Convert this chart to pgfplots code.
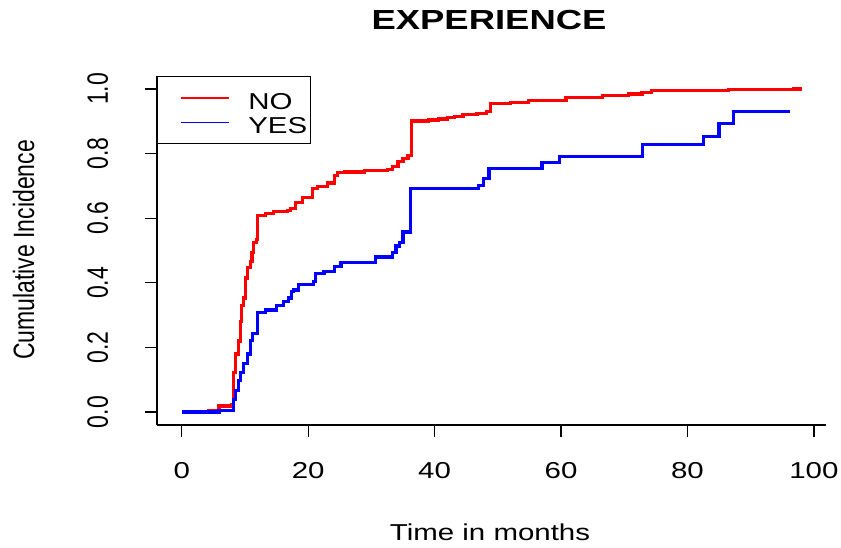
\documentclass[border=0pt]{standalone}
\usepackage{pgfplots}
\pgfplotsset{compat=1.18}
\usepackage{fontspec}
\usepackage{graphicx}
\setmainfont{Liberation Sans}[FakeStretch=1.28, BoldFeatures={FakeStretch=1.32}]
\newfontfamily\rotfont{Liberation Sans}
\begin{document}
\fontsize{23bp}{27bp}\selectfont
\begin{tikzpicture}
\useasboundingbox (0,0) rectangle (841bp,-548bp);
\begin{axis}[
  at={(157bp,-425bp)}, anchor=south west,
  scale only axis, width=669bp, height=349bp,
  xmin=-3.92, xmax=101.92, ymin=-0.04, ymax=1.04,
  axis x line*=bottom, axis y line*=left,
  axis line style={black, line width=1.3bp, -},
  xtick={0,20,40,60,80,100}, ytick={0,0.2,0.4,0.6,0.8,1.0},
  tick align=outside, major tick length=12bp,
  tick style={black, line width=1.3bp},
  /pgf/number format/assume math mode=true,
  xticklabel style={anchor=base, yshift=-41bp},
  yticklabel={\scalebox{1}[1.28]{\rotfont\pgfmathprintnumber[fixed,fixed zerofill,precision=1]{\tick}}},
  yticklabel style={xshift=-37bp, rotate=90, anchor=base},
  legend style={at={(rel axis cs:0,1)}, anchor=north west, draw=black, line width=1.3bp, fill=white,
    inner xsep=3bp, inner ysep=9.75bp, row sep=1.5bp, column sep=19bp,
    nodes={inner sep=0pt, text height=23bp, text depth=0pt}, cells={anchor=west}},
  legend image code/.code={\path[draw=none, fill=none] (0bp,0bp) rectangle (68bp,0.1bp); \draw[#1, line width=1.2bp] (20bp,0bp) -- (68bp,0bp);},
]
\addplot[const plot, red, line width=3.2bp, no markers] coordinates {
(0,0) (4.2,0.006) (5.9,0.019) (7.9,0.024) (8.17,0.123) (8.44,0.18) (8.97,0.22) (9.24,0.28) (9.5,0.33) (9.77,0.353)
(10.03,0.415) (10.4,0.447) (10.83,0.467) (11.1,0.493) (11.36,0.525) (11.78,0.534) (12.0,0.609) (13.2,0.615) (14.5,0.621)
(16.7,0.625) (17.2,0.631) (18.0,0.649) (19.06,0.665) (20.65,0.691) (21.45,0.699) (23.0,0.709) (24.1,0.732) (24.6,0.741)
(25.7,0.743) (28.9,0.748) (32.6,0.751) (33.4,0.761) (34.2,0.776) (35.0,0.784) (35.8,0.795) (36.3,0.901) (39.0,0.904)
(40.6,0.907) (42.1,0.911) (43.2,0.915) (44.5,0.922) (46.7,0.925) (48.2,0.93) (48.8,0.956) (52.0,0.959) (54.9,0.963)
(60.8,0.974) (66.6,0.979) (70.7,0.984) (72.8,0.989) (74.3,0.995) (86.5,0.997) (96.8,1.0) (98.1,1.0)
};
\addlegendentry{NO}
\addplot[const plot, blue, line width=3.2bp, no markers] coordinates {
(0,0) (5.9,0.006) (8.2,0.04) (8.44,0.066) (8.97,0.097) (9.24,0.123) (9.77,0.15) (10.4,0.18) (10.93,0.222) (11.2,0.243)
(12.0,0.307) (13.2,0.316) (15.0,0.331) (16.1,0.342) (16.9,0.353) (17.4,0.373) (17.7,0.378) (18.5,0.394) (20.9,0.404)
(21.2,0.43) (22.5,0.435) (24.1,0.451) (25.2,0.464) (30.7,0.48) (33.4,0.495) (33.9,0.514) (34.4,0.524) (35.0,0.557)
(36.2,0.691) (46.9,0.701) (47.7,0.722) (48.6,0.753) (57.0,0.772) (59.8,0.79) (72.9,0.829) (82.5,0.854) (85.0,0.894)
(87.3,0.930) (96.3,0.930)
};
\addlegendentry{YES}
\end{axis}
\node[anchor=base, font=\bfseries\fontsize{27.6bp}{30bp}\selectfont] at (489bp,-29.3bp) {EXPERIENCE};
\node[anchor=base] at (490bp,-540bp) {Time in months};
\node[rotate=90, anchor=base] at (34bp,-250bp) {\scalebox{1}[1.28]{\rotfont Cumulative Incidence}};
\end{tikzpicture}
\end{document}
